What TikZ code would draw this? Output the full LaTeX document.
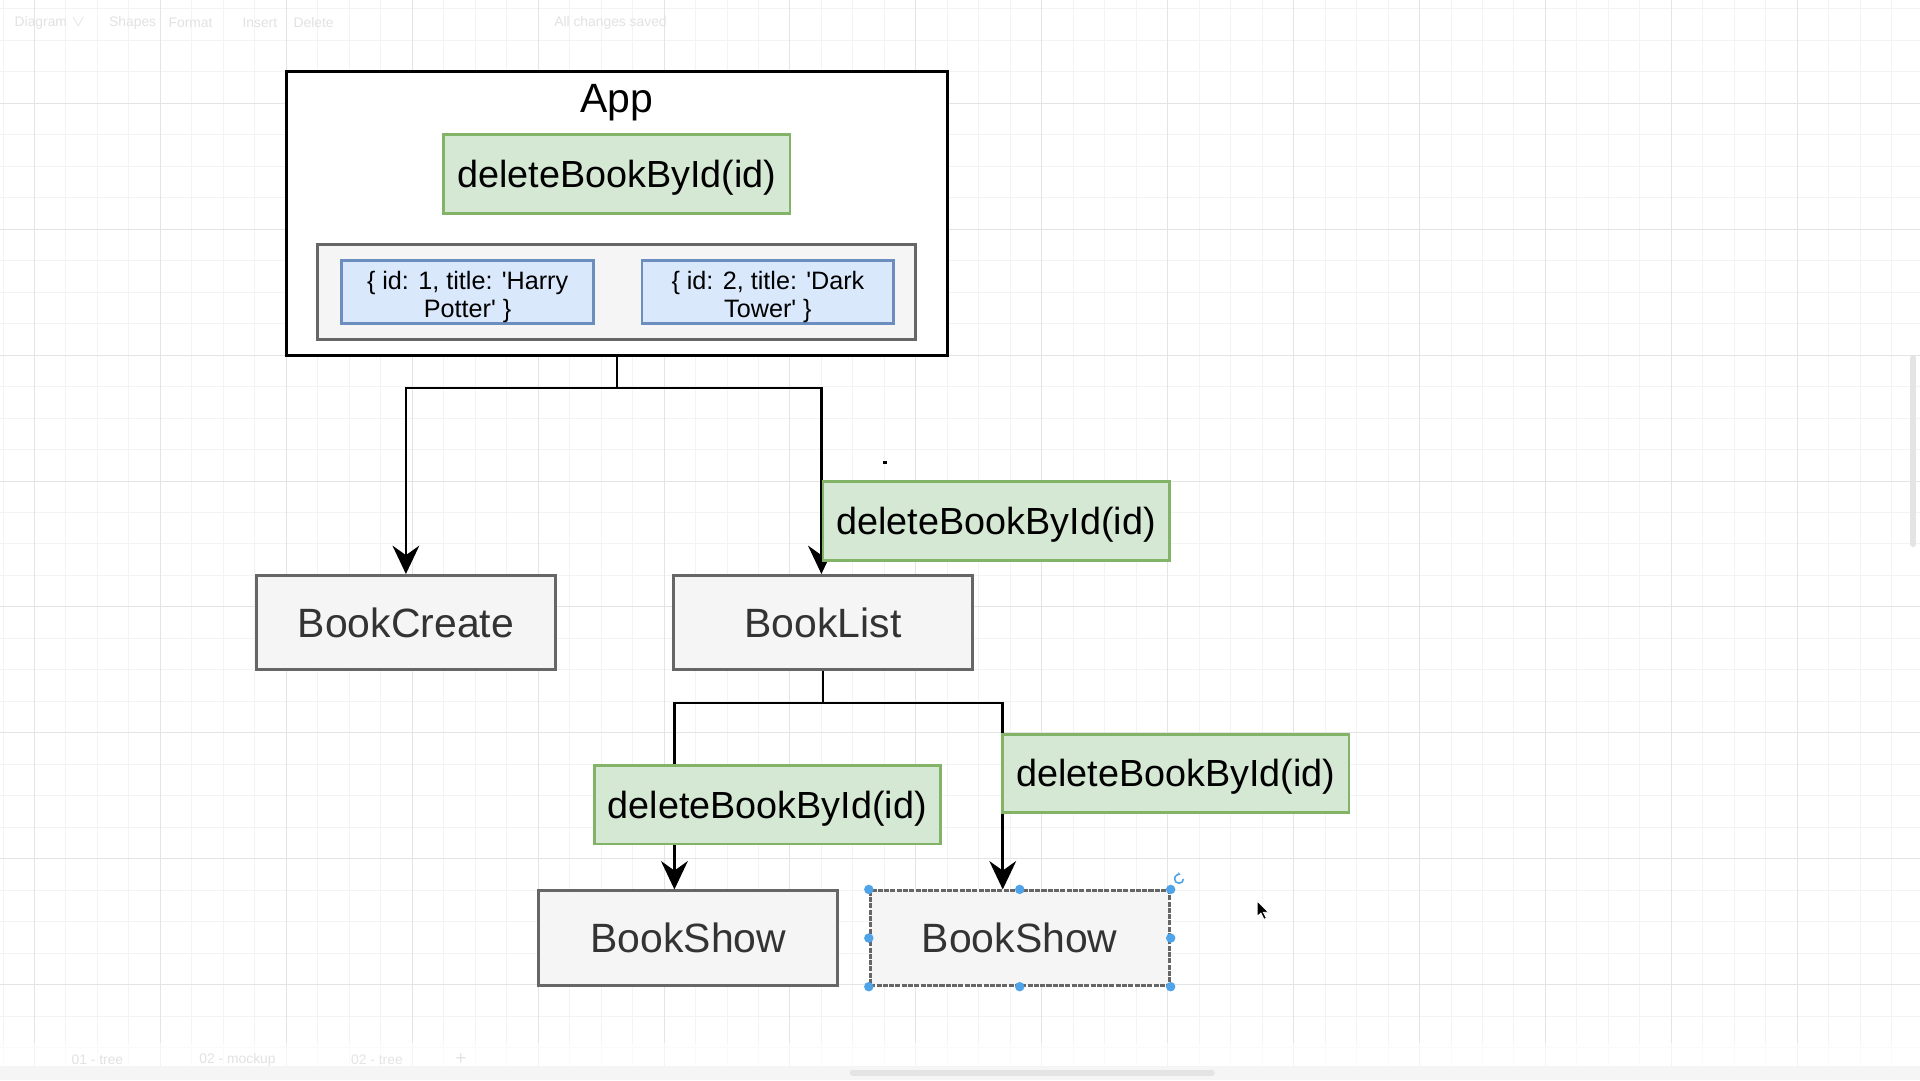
\documentclass[tikz,border=0pt]{standalone}
\usepackage{fontspec}
\setmainfont{Liberation Sans}
\usetikzlibrary{arrows.meta}

\definecolor{verde}{HTML}{D5E8D4}
\definecolor{verdebordo}{HTML}{82B366}
\definecolor{blu}{HTML}{DAE8FC}
\definecolor{blubordo}{HTML}{6C8EBF}
\definecolor{fondo}{HTML}{F5F5F5}
\definecolor{grigio}{HTML}{666666}
\definecolor{testo}{HTML}{333333}
\definecolor{maniglia}{HTML}{4FA3E8}
\definecolor{linea}{HTML}{F3F3F3}
\definecolor{lineaforte}{HTML}{E4E4E4}
\definecolor{interfaccia}{HTML}{E2E2E2}

\newcommand{\sq}{\textquotesingle}

\tikzset{
  griglia/.style={linea, line width=0.3pt},
  grigliaforte/.style={lineaforte, line width=0.3pt},
  comp/.style={draw=grigio, fill=fondo, line width=0.9pt, minimum width=95pt,
    minimum height=30pt, inner sep=0pt, text=testo,
    font=\fontsize{13}{15}\selectfont, text height=9.3pt, text depth=0pt},
  metodo/.style={draw=verdebordo, fill=verde, line width=0.9pt, minimum width=110pt,
    minimum height=25pt, inner sep=0pt,
    font=\fontsize{12}{14}\selectfont, text height=8.6pt, text depth=0pt},
  libro/.style={draw=blubordo, fill=blu, line width=0.9pt, minimum width=80pt,
    minimum height=20pt, inner sep=0pt, align=center,
    font=\fontsize{8}{8.8}\selectfont, text height=17.9pt, text depth=1.7pt},
  link/.style={line width=0.8pt, -{Stealth[length=9pt,width=8.5pt,inset=3pt]}},
  ui/.style={text=interfaccia, font=\fontsize{4.4}{5}\selectfont, inner sep=0pt}
}

\begin{document}
\begin{tikzpicture}[x=1pt,y=-1pt]
        % Sfondo
        \useasboundingbox (-90.95,-22.8) rectangle (519,320.3);
        \fill[white] (-90.95,-22.8) rectangle (519,320.3);
        % Griglia
        \foreach \x in {-90,-80,...,510}
          \draw[griglia] (\x,-22.8) -- (\x,320.3);
        \foreach \y in {-20,-10,...,320}
          \draw[griglia] (-90.95,\y) -- (519,\y);
        \foreach \x in {-80,-40,...,480}
          \draw[grigliaforte] (\x,-22.8) -- (\x,320.3);
        \foreach \y in {10,50,...,290}
          \draw[grigliaforte] (-90.95,\y) -- (519,\y);

        % Barre dell'editor
        \fill[white, opacity=0.6] (-90.95,308.5) rectangle (519,320.3);
        \fill[fondo] (-90.95,316) rectangle (519,320.3);
        \draw[lineaforte, line width=2pt, line cap=round] (180,318) -- (294,318);
        \draw[lineaforte, line width=2pt, line cap=round] (516.8,91) -- (516.8,150);
        \node[ui] (menu) at (-75,-15.6) {Diagram \(\vee\)};
        \node[ui] (forme) at (-48.8,-15.6) {Shapes};
        \node[ui] (formato) at (-30.4,-15.6) {Format};
        \node[ui] (inserisci) at (-8.4,-15.6) {Insert};
        \node[ui] (elimina) at (8.7,-15.6) {Delete};
        \node[ui] (salvato) at (103,-15.6) {All changes saved};
        \node[ui] (pagina1) at (-60,313.8) {01 - tree};
        \node[ui] (pagina2) at (-15.5,313.8) {02 - mockup};
        \node[ui, text=lineaforte] (pagina3) at (28.8,313.8) {02 - tree};
        \node[ui, font=\fontsize{6}{6}\selectfont] (nuova) at (55.5,313.6) {+};

        % App
        \node[draw=black, fill=white, line width=1pt, minimum width=210pt,
          minimum height=90pt, inner sep=0pt] (app) at (105,45) {};
        \node[anchor=base, inner sep=0pt, font=\fontsize{13}{15}\selectfont] (titolo) at (105,12.8) {App};
        \node[metodo] (del1) at (105,32.5) {deleteBookById(id)};
        \node[draw=grigio, fill=fondo, line width=0.9pt, minimum width=190pt,
          minimum height=30pt, inner sep=0pt] (store) at (105,70) {};
        \node[libro] (book1) at (57.6,70) {\{ id: 1, title: \sq Harry\\Potter\sq{} \}};
        \node[libro] (book2) at (153,70) {\{ id: 2, title: \sq Dark\\Tower\sq{} \}};

        % Componenti
        \node[comp] (bcreate) at (38,175) {BookCreate};
        \node[comp] (blist) at (170.5,175) {BookList};
        \node[comp] (bshow1) at (127.7,275.2) {BookShow};
        \node[comp, dash pattern=on 1.6pt off 0.4pt] (bshow2) at (233,275.2) {BookShow};

        % Collegamenti
        \draw[link] (app.south) -- ++(0,10) -| (bcreate.north);
        \draw[link] (app.south) -- ++(0,10) -| ([xshift=-0.5pt]blist.north);
        \draw[link] (blist.south) -- ++(0,10) -| ([xshift=-4.4pt]bshow1.north);
        \draw[link] (blist.south) -- ++(0,10) -| ([xshift=-5.4pt]bshow2.north);

        % Funzione passata
        \node[metodo] (del2) at (225.5,142.7) {deleteBookById(id)};
        \node[metodo] (del3) at (152.8,232.8) {deleteBookById(id)};
        \node[metodo] (del4) at (282.6,222.9) {deleteBookById(id)};

        % Selezione
        \foreach \a in {north west,north,north east,east,south east,south,south west,west}
          \fill[maniglia] (bshow2.\a) circle (1.5pt);
        \draw[maniglia, line width=0.5pt, -{Stealth[length=1pt,width=1.2pt]}]
          (285,256.4) arc (0:290:1.4);
        \fill[black] (189.7,123.6) rectangle (190.8,124.7);
        \filldraw[fill=black, draw=white, line width=0.3pt] (308.4,263.4) -- ++(0,5)
          -- ++(1.2,-1.1) -- ++(1,2) -- ++(0.8,-0.4) -- ++(-1,-1.9) -- ++(1.6,0) -- cycle;
    \end{tikzpicture}
\end{document}
